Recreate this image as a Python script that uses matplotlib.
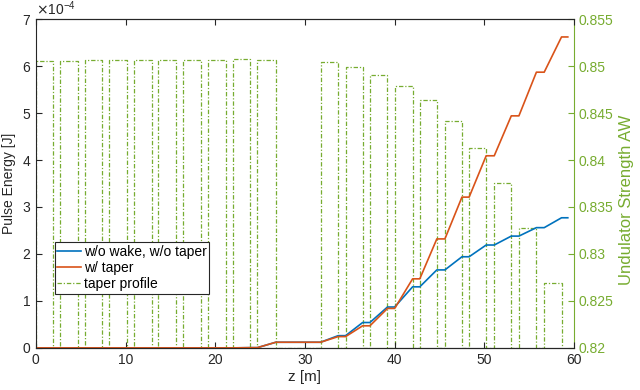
import numpy as np
import matplotlib
matplotlib.use('Agg')
import matplotlib.pyplot as plt
from matplotlib.ticker import ScalarFormatter, StrMethodFormatter
from matplotlib.lines import Line2D

plt.rcParams['font.family'] = ['Liberation Sans', 'DejaVu Sans']
plt.rcParams['font.size'] = 10

# undulator segments [m]
seg_start = [0.0, 2.68, 5.46, 8.17, 10.89, 13.63, 16.42, 19.2, 22.0, 24.7,
             31.74, 34.53, 37.24, 40.0, 42.8, 45.6, 48.3, 51.1, 53.85, 56.67]
seg_end = [1.86, 4.65, 7.39, 10.14, 12.9, 15.6, 18.4, 21.2, 23.9, 26.75,
           33.7, 36.43, 39.2, 42.0, 44.7, 47.5, 50.2, 53.0, 55.8, 58.6]
# undulator strength AW per segment
taper_aw = [0.8505, 0.8505, 0.8506, 0.8506, 0.8506, 0.8507, 0.8507, 0.8507, 0.8508, 0.8507,
            0.8504, 0.8499, 0.8491, 0.8479, 0.8464, 0.8442, 0.8413, 0.8376, 0.8328, 0.8269]
# pulse energy at end of each segment [1e-4 J]
e_notaper = [0, 0, 0, 0, 0, 0, 0, 0, 0.005, 0.12,
             0.26, 0.54, 0.87, 1.30, 1.66, 1.94, 2.19, 2.38, 2.56, 2.77]
e_taper = [0, 0, 0, 0, 0, 0, 0, 0, 0.005, 0.12,
           0.24, 0.47, 0.84, 1.47, 2.32, 3.21, 4.09, 4.94, 5.87, 6.62]
z_last = 59.3

blue = '#0072BD'
orange = '#D95319'
green = '#77AC30'
dark = '#262626'

def energy_curve(e):
    e = np.array(e) * 1e-4
    prev = np.concatenate([[0.0], e[:-1]])
    z = np.column_stack([seg_start, seg_end]).ravel()
    y = np.column_stack([prev, e]).ravel()
    return np.concatenate([[0.0], z, [z_last]]), np.concatenate([[0.0], y, [e[-1]]])

fig = plt.figure(figsize=(6.4, 3.9), dpi=100)
ax1 = fig.add_axes([0.056, 0.108, 0.841, 0.843])
ax2 = ax1.twinx()
ax1.set_zorder(ax2.get_zorder() + 1)
ax1.patch.set_visible(False)

# taper profile as rectangles
s = np.array(seg_start)
en = np.array(seg_end)
k = np.array(taper_aw)
base = np.full_like(k, 0.82)
tz = np.column_stack([s, s, en, en]).ravel()
tk = np.column_stack([base, k, k, base]).ravel()
ax2.plot(tz, tk, color=green, lw=0.9, dashes=(3.5, 1.5, 1, 1.5))

z1, y1 = energy_curve(e_notaper)
z2, y2 = energy_curve(e_taper)
ax1.plot(z1, y1, color=blue, lw=1.2)
ax1.plot(z2, y2, color=orange, lw=1.2)

ax1.set_xlim(0, 60)
ax1.set_ylim(0, 7e-4)
ax1.set_xticks(np.arange(0, 61, 10))
ax1.set_yticks(np.arange(0, 7.1, 1) * 1e-4)
fmt = ScalarFormatter(useMathText=True)
fmt.set_powerlimits((0, 0))
ax1.yaxis.set_major_formatter(fmt)
ax1.set_xlabel('z [m]', color=dark, fontsize=11, labelpad=2)
ax1.set_ylabel('Pulse Energy [J]', color=dark, fontsize=10)
ax1.tick_params(direction='in', length=4, colors=dark, top=True)
ax1.tick_params(axis='y', right=False)

ax2.set_ylim(0.82, 0.855)
ax2.set_yticks(np.arange(0.82, 0.8551, 0.005))
ax2.yaxis.set_major_formatter(StrMethodFormatter('{x:g}'))
ax2.tick_params(axis='y', direction='in', length=4, colors=green)
ax2.set_ylabel('Undulator Strength AW', color=green, fontsize=12)
ax2.yaxis.label.set_y(0.45)

for sp in ['left', 'bottom', 'top']:
    ax1.spines[sp].set_color(dark)
ax1.spines['right'].set_visible(False)
ax2.spines['right'].set_color(green)
ax2.spines['left'].set_visible(False)
ax2.spines['top'].set_color(dark)

handles = [Line2D([], [], color=blue, lw=1.2),
           Line2D([], [], color=orange, lw=1.2),
           Line2D([], [], color=green, lw=0.9, dashes=(3.5, 1.5, 1, 1.5))]
leg = ax1.legend(handles, ['w/o wake, w/o taper', 'w/ taper', 'taper profile'],
                 loc='upper left', bbox_to_anchor=(0.035, 0.322), fancybox=False,
                 framealpha=1, edgecolor=dark, handlelength=1.7, handletextpad=0.2,
                 borderpad=0.2, labelspacing=0.15, borderaxespad=0)
leg.get_frame().set_linewidth(0.8)

fig.savefig('out.png', dpi=100)
